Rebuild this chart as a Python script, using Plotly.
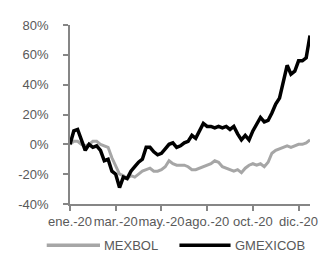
import plotly.graph_objects as go

# sampled observations (roughly every 4 trading days), cumulative return in %
obs = list(range(64))
mexbol = [0, 2, 2, 0, -1, 0, 2, 2, 0, -1, -2, -9, -15, -20, -21, -23, -21, -22, -20, -18,
          -17, -16, -18, -18, -17, -15, -11, -13, -14, -14, -14, -15, -17, -17, -16, -15,
          -14, -13, -11, -12, -15, -16, -17, -18, -17, -19, -16, -14, -13, -14, -13, -15,
          -12, -6, -4, -3, -2, -1, -2, -1, 0, 0, 1, 3]
gmexicob = [0, 9, 10, 3, -4, 0, -2, -1, -4, -11, -10, -18, -20, -29, -22, -23, -18, -15,
            -12, -10, -2, -2, -5, -7, -6, -3, 0, 1, -2, -1, 1, 2, 6, 4, 9, 14, 12, 12, 11,
            12, 11, 12, 10, 12, 7, 3, 6, 3, 9, 13, 18, 15, 16, 21, 27, 31, 42, 53, 47, 49,
            56, 56, 58, 73]
tick_pos = [0, 12, 24, 36, 48, 60]
tick_labels = ["ene.-20", "mar.-20", "may.-20", "ago.-20", "oct.-20", "dic.-20"]
y_ticks = [-40, -20, 0, 20, 40, 60, 80]

GREY = "#A6A6A6"
AXIS = "#868686"
TXT = "#595959"
FONT = "Liberation Sans, Arial, sans-serif"

fig = go.Figure()
fig.add_trace(go.Scatter(x=obs, y=mexbol, mode="lines", name="MEXBOL",
                         line=dict(color=GREY, width=3), showlegend=False))
fig.add_trace(go.Scatter(x=obs, y=gmexicob, mode="lines", name="GMEXICOB",
                         line=dict(color="#000000", width=3.5), showlegend=False))

# the page body adds an 8px offset, so the figure is sized to fit inside it
fig.update_layout(
    width=327, height=252,
    margin=dict(l=54, r=25, t=10, b=56),
    paper_bgcolor="white", plot_bgcolor="white",
    font=dict(family=FONT, size=13, color=TXT),
    xaxis=dict(range=[0, 63], tickvals=tick_pos, ticktext=tick_labels,
               showgrid=False, zeroline=False, showline=True, linecolor=AXIS,
               linewidth=1.5, ticks="outside", ticklen=5, tickcolor=AXIS,
               tickwidth=1.5, tickangle=0, tickfont=dict(size=13, color=TXT)),
    yaxis=dict(range=[-40, 80], tickvals=y_ticks,
               ticktext=[f"{v}%" for v in y_ticks],
               showgrid=False, zeroline=False, showline=True, linecolor=AXIS,
               linewidth=1.5, ticks="outside", ticklen=5, tickcolor=AXIS,
               tickwidth=1.5, ticklabelstandoff=12, tickfont=dict(size=13, color=TXT)),
)

# legend drawn below the plot
legend_items = [("MEXBOL", GREY, -0.097, 0.125), ("GMEXICOB", "#000000", 0.456, 0.669)]
for name, col, x0, x1 in legend_items:
    fig.add_shape(type="line", xref="paper", yref="paper", x0=x0, x1=x1,
                  y0=-0.231, y1=-0.231, line=dict(color=col, width=3.5))
    fig.add_annotation(xref="paper", yref="paper", x=x1 + 0.01, y=-0.231,
                       text=name, showarrow=False, xanchor="left", yanchor="middle",
                       font=dict(family=FONT, size=13, color=TXT))

fig.write_html("out.html")
